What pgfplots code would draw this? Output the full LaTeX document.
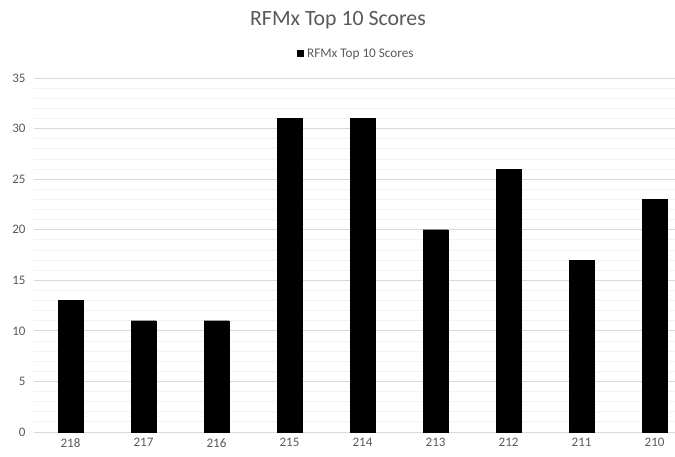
\documentclass[border=0pt]{standalone}
\usepackage{pgfplots}
\pgfplotsset{compat=1.18}
\usepackage{fontspec}
\setmainfont{Carlito}
\definecolor{txtgray}{HTML}{595959}
\definecolor{majgrid}{HTML}{D9D9D9}
\definecolor{mingrid}{HTML}{F2F2F2}
\begin{document}
\begin{tikzpicture}[x=1pt,y=1pt]
\useasboundingbox (-34,-25) rectangle (641,432);
\begin{axis}[
  at={(0,0)}, anchor=south west,
  scale only axis, width=641pt, height=354pt,
  xmin=-0.5, xmax=8.28, ymin=0, ymax=35,
  xtick={0,...,8},
  xticklabels={218,217,216,215,214,213,212,211,210},
  ytick={0,5,...,35},
  minor y tick num=4,
  ymajorgrids, yminorgrids,
  major grid style={majgrid, line width=0.8pt},
  minor grid style={mingrid, line width=0.8pt},
  axis x line*=bottom, axis y line*=left,
  x axis line style={majgrid, line width=0.8pt, -},
  y axis line style={draw=none},
  major tick length=0pt, minor tick length=0pt,
  tick label style={font=\fontsize{13}{15}\selectfont, text=txtgray},
  yticklabel style={xshift=-5pt},
  xticklabel style={yshift=-3pt},
  /pgf/number format/assume math mode=true,
  clip=false,
]
\addplot[ybar, bar width=25pt, fill=black, draw=black, line width=0.4pt]
  coordinates {(0,13) (1,11) (2,11) (3,31) (4,31) (5,20) (6,26) (7,17) (8,23)};
\end{axis}
\node[text=txtgray, font=\fontsize{21.8}{26}\selectfont] at (304,412) {RFMx Top 10 Scores};
\fill[black] (262.5,374.5) rectangle (269.5,381.5);
\node[anchor=west, inner sep=0pt, text=txtgray, font=\fontsize{13.2}{15}\selectfont] at (273,378) {RFMx Top 10 Scores};
\end{tikzpicture}
\end{document}
